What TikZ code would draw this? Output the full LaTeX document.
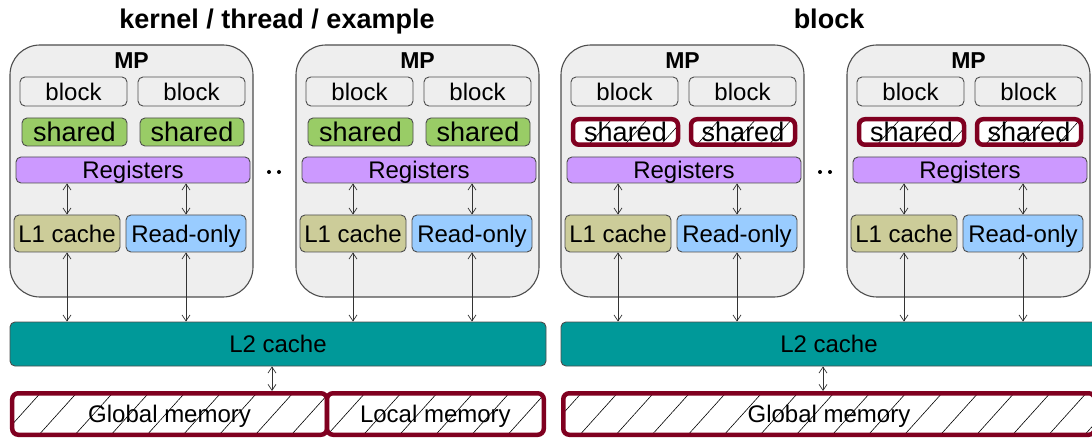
\documentclass[tikz,border=0pt]{standalone}
\usepackage{fontspec}
\setmainfont{Liberation Sans}
\usetikzlibrary{arrows.meta,patterns.meta}

\definecolor{mpgray}{HTML}{EEEEEE}
\definecolor{edgegray}{HTML}{4D4D4D}
\definecolor{sharedgreen}{HTML}{99CC66}
\definecolor{regpurple}{HTML}{CC99FF}
\definecolor{lonekhaki}{HTML}{CCCC99}
\definecolor{roblue}{HTML}{99CCFF}
\definecolor{ltwoteal}{HTML}{009999}
\definecolor{memred}{HTML}{800020}

\tikzset{
  celltext/.style={font=\fontsize{24}{28}\selectfont, text height=17.3pt, text depth=0pt, inner sep=0pt},
  bigtext/.style={font=\fontsize{27}{30}\selectfont, text height=19.4pt, text depth=0pt, inner sep=0pt},
  unitbox/.style={celltext, draw=edgegray, line width=0.9pt, rounded corners=5pt},
  mpbox/.style={draw=edgegray, fill=mpgray, line width=1.1pt, rounded corners=30pt,
    minimum width=243pt, minimum height=252pt, inner sep=0pt},
  mplabel/.style={font=\fontsize{23}{26}\selectfont\bfseries, text height=16.6pt, text depth=0pt, inner sep=0pt},
  titletext/.style={font=\fontsize{27}{30}\selectfont\bfseries, text height=19.4pt, text depth=0pt, inner sep=0pt},
  blockbox/.style={unitbox, fill=mpgray, minimum width=107pt, minimum height=29pt},
  greenshared/.style={unitbox, bigtext, fill=sharedgreen, minimum height=28pt},
  hatchfill/.style={draw=memred, line width=4.5pt, rounded corners=6pt, preaction={fill=white},
    pattern={Lines[angle=48,distance=26.8pt,line width=0.6pt]}, pattern color=black},
  hatchshared/.style={bigtext, hatchfill, minimum height=25.5pt},
  membox/.style={celltext, hatchfill, minimum height=41.5pt},
  biarrow/.style={draw=black!80, line width=0.7pt,
    {Straight Barb[length=6pt,width=8pt]}-{Straight Barb[length=6pt,width=8pt]}},
  dotmark/.style={fill=black}
}

\begin{document}
\begin{tikzpicture}[x=1pt,y=-1pt]
\useasboundingbox (0,0) rectangle (1092,438);
\clip (0,0) rectangle (1092,438);

% headings
\node[titletext] (t-left) at (277,18.5) {kernel / thread / example};
\node[titletext] (t-right) at (829,18.5) {block};

% multiprocessors
\foreach \n/\L/\sh in {a/10/greenshared, b/296/greenshared, c/561/hatchshared, d/847/hatchshared}{
  \begin{scope}[xshift=\L pt]
    \node[mpbox] (\n-mp) at (121.5,171) {};
    \node[mplabel] (\n-lbl) at (121.5,60) {MP};
    \node[blockbox] (\n-b1) at (63.5,91.5) {block};
    \node[blockbox] (\n-b2) at (181.5,91.5) {block};
    \node[\sh, minimum width=105pt] (\n-s1) at (64.5,132) {shared};
    \node[\sh, minimum width=104pt] (\n-s2) at (182,132) {shared};
    \node[unitbox, fill=regpurple, minimum width=234pt, minimum height=26pt] (\n-reg) at (123,170) {Registers};
    \node[unitbox, fill=lonekhaki, minimum width=106pt, minimum height=37pt] (\n-l1) at (57,233.5) {L1 cache};
    \node[unitbox, fill=roblue, minimum width=120pt, minimum height=37pt] (\n-ro) at (176,233.5) {Read-only};
  \end{scope}
  \draw[biarrow] (\n-l1.north) -- (\n-l1.north |- \n-reg.south);
  \draw[biarrow] (\n-ro.north) -- (\n-ro.north |- \n-reg.south);
}

% ellipses between multiprocessors
\fill[dotmark] (269,172) circle (2);
\fill[dotmark] (279,172) circle (2);
\fill[dotmark] (820,172) circle (2);
\fill[dotmark] (830,172) circle (2);

% L2 caches
\node[unitbox, fill=ltwoteal, minimum width=536pt, minimum height=44pt] (l2-left) at (278,344) {L2 cache};
\node[unitbox, fill=ltwoteal, minimum width=536pt, minimum height=44pt] (l2-right) at (829,344) {L2 cache};

\foreach \n/\c in {a/l2-left, b/l2-left, c/l2-right, d/l2-right}{
  \draw[biarrow] (\n-l1.south) -- (\n-l1.south |- \c.north);
  \draw[biarrow] (\n-ro.south) -- (\n-ro.south |- \c.north);
}

% device memory
\node[membox, minimum width=314.75pt] (gmem-left) at (169.6,414) {Global memory};
\node[membox, minimum width=216.75pt] (lmem-left) at (435.4,414) {Local memory};
\node[membox, minimum width=531.5pt] (gmem-right) at (829,414) {Global memory};

\coordinate (lk-left) at (272,0);
\coordinate (lk-right) at (823,0);
\draw[biarrow] (l2-left.south -| lk-left) -- (gmem-left.north -| lk-left);
\draw[biarrow] (l2-right.south -| lk-right) -- (gmem-right.north -| lk-right);
\end{tikzpicture}
\end{document}
